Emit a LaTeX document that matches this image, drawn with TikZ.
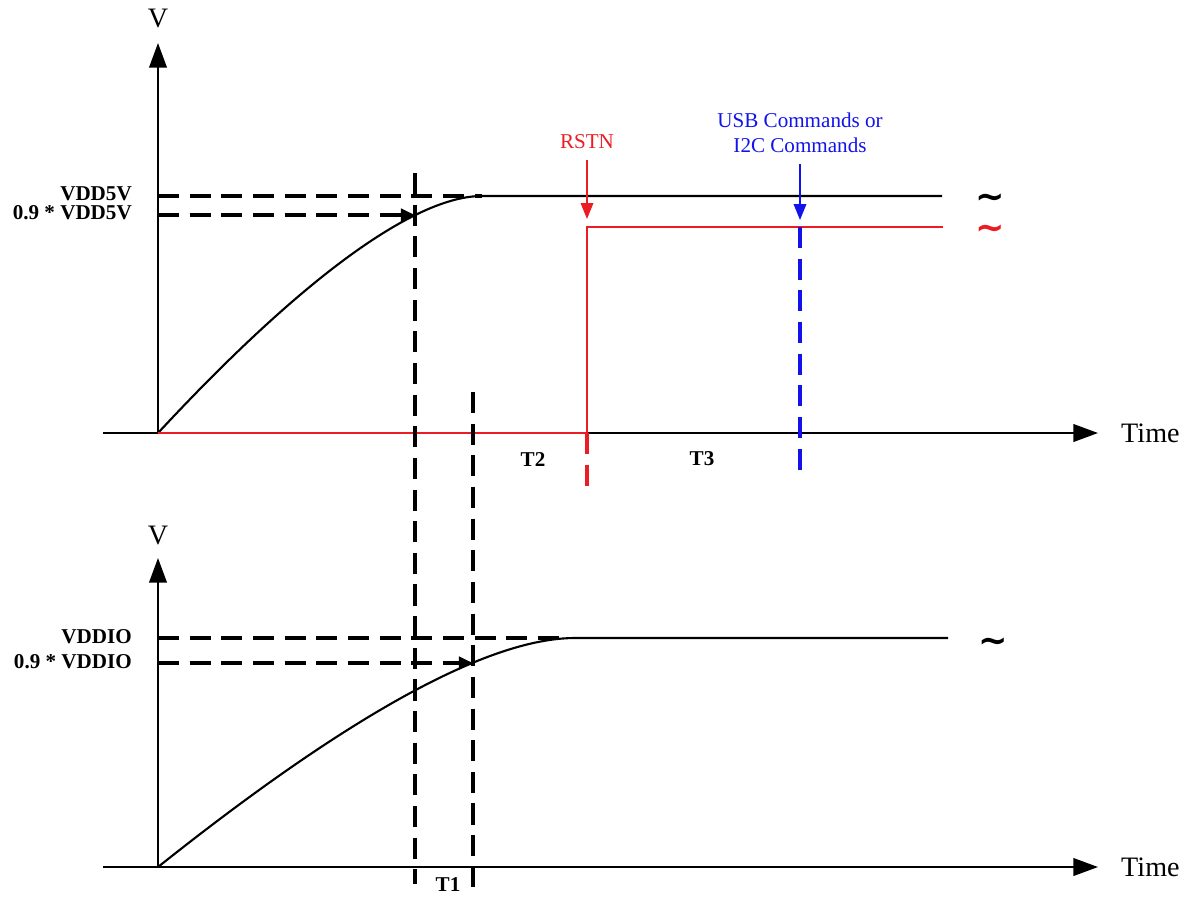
\documentclass[tikz,border=0pt]{standalone}
\usepackage{fontspec}
\setmainfont{Liberation Serif}
\newfontfamily\tildefont{DejaVu Sans}
\usetikzlibrary{arrows.meta,positioning}

\definecolor{rstnred}{RGB}{236,28,36}
\definecolor{cmdblue}{RGB}{18,18,235}

\begin{document}
\begin{tikzpicture}[
			x=0.01cm, y=-0.01cm,
			font=\fontsize{6}{7}\selectfont,
			axisline/.style={line width=0.6pt, -{Triangle[length=7pt,width=5pt]}},
			sig/.style={line width=0.6pt},
			guide/.style={line width=1.4pt, dash pattern=on 6pt off 3pt},
			garr/.style={guide, -{Triangle[length=4pt,width=3.5pt]}},
			cue/.style={line width=0.6pt, -{Triangle[length=4.5pt,width=3.5pt]}},
			lvl/.style={font=\fontsize{6}{7}\selectfont\bfseries, anchor=east, inner sep=1pt},
			axlbl/.style={font=\fontsize{8}{9}\selectfont, inner sep=1pt},
			tlbl/.style={font=\fontsize{6}{7}\selectfont\bfseries, inner sep=1pt},
			brk/.style={font=\tildefont\bfseries\fontsize{10}{10}\selectfont, inner sep=0pt, anchor=base}
			]
			\useasboundingbox (0,0) rectangle (1194,908);
			
			%% ── Top plot: axes ──────────────────────────────────────────────────
			\coordinate (o1) at (158,433);
			\coordinate (xl1) at (103,433);
			\coordinate (xr1) at (1098,433);
			\coordinate (yt1) at (158,43);
			\draw[axisline] (xl1) -- (xr1);
			\draw[axisline] (o1) -- (yt1);
			\node[axlbl] (v1) at (158,18) {V};
			\node[axlbl, anchor=west] (time1) at (1117,433) {Time};
			
			%% ── Top plot: VDD5V rise ────────────────────────────────────────────
			\coordinate (h5) at (158,196);
			\coordinate (n5) at (158,215);
			\coordinate (c5) at (415,215);
			\coordinate (top5) at (482,196);
			\coordinate (end5) at (942,196);
			\node[lvl] (vdd5) at (136,194) {VDD5V};
			\node[lvl] (vdd5n) at (136,213) {0.9 * VDD5V};
			\draw[sig] (o1) .. controls (300,280) and (414,196) .. (top5) -- (end5);
			\draw[guide] (h5) -- (top5);
			\draw[garr] (n5) -- (c5);
			\node[brk] (tl5) at (990,208) {\char"007E};
			
			%% ── Top plot: RSTN ──────────────────────────────────────────────────
			\coordinate (rs) at (587,433);
			\coordinate (rsh) at (587,227);
			\coordinate (rsa) at (587,219);
			\coordinate (rse) at (943,227);
			\coordinate (rsd) at (587,487);
			\draw[sig, line width=0.5pt, rstnred] (o1) -- (rs) -- (rsh) -- (rse);
			\draw[rstnred, line width=1.1pt, dash pattern=on 6pt off 3pt] (rs) -- (rsd);
			\node[inner sep=1pt, text=rstnred] (rstn) at (587,142) {RSTN};
			\draw[cue, rstnred, shorten <=2pt] (rstn) -- (rsa);
			\node[brk, text=rstnred] (tlr) at (990,239) {\char"007E};
			
			%% ── Top plot: USB / I2C commands ────────────────────────────────────
			\coordinate (cma) at (800,220);
			\coordinate (cmt) at (800,227);
			\coordinate (cmd) at (800,477);
			\node[inner sep=1pt, align=center, text=cmdblue] (cmds) at (800,133) {USB Commands or\\I2C Commands};
			\draw[cue, cmdblue, shorten <=2pt] (cmds) -- (cma);
			\draw[cmdblue, line width=1.3pt, dash pattern=on 6pt off 3pt] (cmt) -- (cmd);
			
			\node[tlbl] (t2) at (533,459) {T2};
			\node[tlbl] (t3) at (702,459) {T3};
			
			%% ── Guides through both plots ───────────────────────────────────────
			\coordinate (g1a) at (415,173);
			\coordinate (g1b) at (415,884);
			\coordinate (g2a) at (473,392);
			\coordinate (g2b) at (473,887);
			\draw[guide] (g1a) -- (g1b);
			\draw[guide] (g2a) -- (g2b);
			
			%% ── Bottom plot: axes ───────────────────────────────────────────────
			\coordinate (o2) at (158,867);
			\coordinate (xl2) at (103,867);
			\coordinate (xr2) at (1098,867);
			\coordinate (yt2) at (158,558);
			\draw[axisline] (xl2) -- (xr2);
			\draw[axisline] (o2) -- (yt2);
			\node[axlbl] (v2) at (158,535) {V};
			\node[axlbl, anchor=west] (time2) at (1117,867) {Time};
			
			%% ── Bottom plot: VDDIO rise ─────────────────────────────────────────
			\coordinate (hio) at (158,638);
			\coordinate (nio) at (158,663);
			\coordinate (cio) at (473,663);
			\coordinate (topio) at (575,638);
			\coordinate (dio) at (565,638);
			\coordinate (endio) at (948,638);
			\node[lvl] (vddio) at (136,637) {VDDIO};
			\node[lvl] (vddion) at (136,662) {0.9 * VDDIO};
			\draw[sig] (o2) .. controls (350,714) and (489,638) .. (topio) -- (endio);
			\draw[guide] (hio) -- (dio);
			\draw[garr] (nio) -- (cio);
			\node[brk] (tlio) at (993,652) {\char"007E};
			
			\node[tlbl] (t1) at (448,885) {T1};
			
		\end{tikzpicture}
\end{document}
